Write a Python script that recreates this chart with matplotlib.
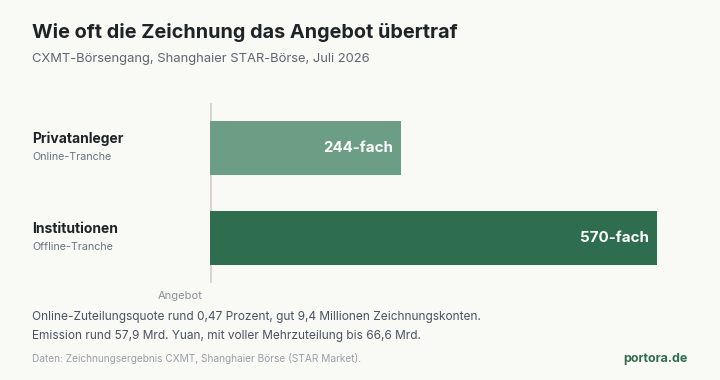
import matplotlib
matplotlib.use("Agg")
import matplotlib.pyplot as plt

plt.rcParams['font.family'] = ['Inter', 'DejaVu Sans']

# Daten
gruppen = ["Privatanleger", "Institutionen"]
tranchen = ["Online-Tranche", "Offline-Tranche"]
werte = [244, 570]
labels = ["244-fach", "570-fach"]
farben = ["#6b9e84", "#2e6e4e"]

bg = "#f9f9f6"
W, H = 720, 380
fig = plt.figure(figsize=(W / 100, H / 100), dpi=100, facecolor=bg)

# Achse in Pixelkoordinaten platzieren
ax_l, ax_r, ax_t, ax_b = 210, 657, 103, 283
ax = fig.add_axes([ax_l / W, 1 - ax_b / H, (ax_r - ax_l) / W, (ax_b - ax_t) / H])
ax.set_facecolor(bg)

y = [0, 1]
ax.barh(y, werte, height=0.59, color=farben, left=0)
ax.set_xlim(0, 570)
ax.set_ylim(1.5, -0.5)
for s in ax.spines.values():
    s.set_visible(False)
ax.set_xticks([])
ax.set_yticks([])
ax.axvline(0, color="#d8d4cb", lw=2, zorder=0)

for yi, v, lab in zip(y, werte, labels):
    ax.annotate(lab, (v, yi), xytext=(-6, 0), textcoords="offset points",
                ha="right", va="center", color="white",
                fontsize=10.9, fontweight="bold")


def px(x, yy):
    return x / W, 1 - yy / H


# Kategorienbeschriftung
for yi, g, t in zip(y, gruppen, tranchen):
    ypix = ax.transData.transform((0, yi))[1]
    yp = H - ypix
    fig.text(*px(32, yp - 9), g, ha="left", va="center", fontsize=10,
             fontweight="bold", color="#1f2328")
    fig.text(*px(32, yp + 9), t, ha="left", va="center", fontsize=7.7,
             color="#6b7280")

fig.text(*px(203, 296), "Angebot", ha="right", va="center", fontsize=8,
         color="#8a8f98")

# Titel
fig.text(*px(32, 33), "Wie oft die Zeichnung das Angebot übertraf", ha="left",
         va="center", fontsize=14.3, fontweight="bold", color="#1f2328")
fig.text(*px(32, 59), "CXMT-Börsengang, Shanghaier STAR-Börse, Juli 2026",
         ha="left", va="center", fontsize=9.35, color="#5f6570")

# Anmerkungen
fig.text(*px(32, 317),
         "Online-Zuteilungsquote rund 0,47 Prozent, gut 9,4 Millionen Zeichnungskonten.",
         ha="left", va="center", fontsize=8.55, color="#4b5260")
fig.text(*px(32, 336),
         "Emission rund 57,9 Mrd. Yuan, mit voller Mehrzuteilung bis 66,6 Mrd.",
         ha="left", va="center", fontsize=8.55, color="#4b5260")
fig.text(*px(32, 359),
         "Daten: Zeichnungsergebnis CXMT, Shanghaier Börse (STAR Market).",
         ha="left", va="center", fontsize=7.3, color="#9a9fa8")
fig.text(*px(688, 359), "portora.de", ha="right", va="center", fontsize=9,
         fontweight="bold", color="#2e6e4e")

fig.savefig("out.png", dpi=100, facecolor=bg)
